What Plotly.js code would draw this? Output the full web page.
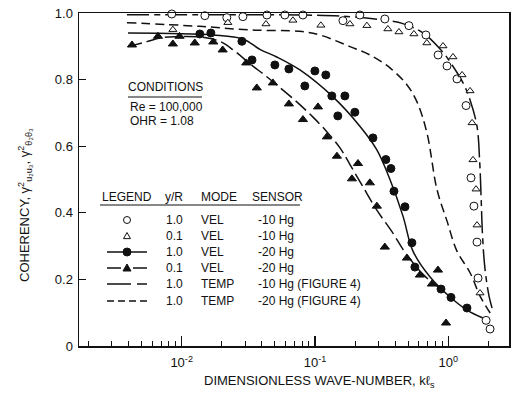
<!DOCTYPE html>
<html>
<head>
<meta charset="utf-8">
<script src="https://cdn.plot.ly/plotly-3.0.1.min.js"></script>
<style>
  html, body { margin: 0; padding: 0; background: #ffffff; }
  #chart { width: 516px; height: 396px; }
</style>
</head>
<body>
<div id="chart"></div>
<script>
// ---- Measured coherency data ----
// y/R = 1.0, VEL, -10 Hg (open circles)
const circOpenK   = [0.00843, 0.01493, 0.0218, 0.0288, 0.0436, 0.0594, 0.0811, 0.162, 0.217, 0.334, 0.506,
                     0.679, 0.838, 0.977, 1.161, 1.358, 1.479, 1.556, 1.641, 1.671, 1.919, 2.056];
const circOpenCoh = [0.997, 0.992, 0.986, 0.989, 0.994, 0.994, 0.994, 0.977, 0.994, 0.982, 0.962,
                     0.934, 0.874, 0.841, 0.802, 0.722, 0.505, 0.420, 0.312, 0.204, 0.077, 0.051];

// y/R = 0.1, VEL, -10 Hg (open triangles)
const triOpenK    = [0.00859, 0.0222, 0.0429, 0.0683, 0.1107, 0.1828, 0.245, 0.352, 0.426, 0.552,
                     0.690, 0.912, 1.084, 1.268, 1.455, 1.507, 1.531, 1.614, 1.641, 1.729];
const triOpenCoh  = [0.950, 0.971, 0.967, 0.978, 0.963, 0.967, 0.962, 0.952, 0.943, 0.937,
                     0.910, 0.901, 0.868, 0.814, 0.766, 0.670, 0.559, 0.471, 0.363, 0.159];

// y/R = 1.0, VEL, -20 Hg (filled circles)
const circFillK   = [0.01368, 0.01656, 0.0283, 0.0337, 0.0500, 0.0637, 0.0839, 0.0998, 0.1205, 0.1337,
                     0.1675, 0.1483, 0.199, 0.272, 0.340, 0.371, 0.391, 0.473, 0.533, 0.561, 0.881, 1.047, 1.380];
const circFillCoh = [0.937, 0.940, 0.915, 0.859, 0.844, 0.832, 0.781, 0.826, 0.814, 0.751,
                     0.751, 0.691, 0.702, 0.625, 0.560, 0.533, 0.465, 0.418, 0.310, 0.237, 0.171, 0.146, 0.114];

// y/R = 0.1, VEL, -20 Hg (filled triangles)
const triFillK    = [0.00424, 0.00664, 0.00859, 0.00964, 0.01254, 0.01726, 0.0203, 0.0305, 0.0366, 0.0483,
                     0.0637, 0.0812, 0.1053, 0.1228, 0.1460, 0.1892, 0.210, 0.258, 0.291, 0.334,
                     0.489, 0.612, 0.753, 0.836, 0.961];
const triFillCoh  = [0.904, 0.930, 0.907, 0.930, 0.910, 0.913, 0.889, 0.850, 0.775, 0.790,
                     0.727, 0.680, 0.718, 0.628, 0.570, 0.502, 0.548, 0.490, 0.420, 0.297,
                     0.264, 0.213, 0.186, 0.228, 0.069];

// ---- Faired curves ----
// y/R = 1.0, VEL, -20 Hg (solid)
const velCurve10K   = [0.00396, 0.01718, 0.0288, 0.0389, 0.0517, 0.0771, 0.1364, 0.217, 0.291, 0.365,
                       0.457, 0.543, 0.730, 1.03, 1.38, 1.82];
const velCurve10Coh = [0.940, 0.934, 0.922, 0.890, 0.868, 0.829, 0.748, 0.660, 0.589, 0.500,
                       0.390, 0.285, 0.207, 0.147, 0.108, 0.084];

// y/R = 0.1, VEL, -20 Hg (long dashes)
const velCurve01K   = [0.00396, 0.00548, 0.00687, 0.00891, 0.01368, 0.0193, 0.0251, 0.0324, 0.0421, 0.0517,
                       0.0730, 0.0962, 0.123, 0.154, 0.183, 0.229, 0.291, 0.384, 0.457, 0.543,
                       0.646, 0.767, 0.912];
const velCurve01Coh = [0.899, 0.914, 0.925, 0.929, 0.928, 0.915, 0.885, 0.848, 0.813, 0.784,
                       0.733, 0.688, 0.643, 0.595, 0.545, 0.478, 0.408, 0.339, 0.290, 0.250,
                       0.215, 0.189, 0.168];

// y/R = 1.0, TEMP, -10 Hg (long dash - short dash)
const tempCurve10K   = [0.00389, 0.01368, 0.0771, 0.183, 0.323, 0.457, 0.646, 0.912, 1.03, 1.29,
                        1.455, 1.64, 1.72, 1.76, 1.806, 1.885, 2.02, 2.18];
const tempCurve10Coh = [0.995, 0.995, 0.994, 0.989, 0.979, 0.968, 0.940, 0.882, 0.853, 0.790,
                        0.739, 0.660, 0.550, 0.450, 0.330, 0.230, 0.150, 0.099];

// y/R = 1.0, TEMP, -20 Hg (short dashes)
const tempCurve20K   = [0.00389, 0.01368, 0.0325, 0.0771, 0.109, 0.183, 0.258, 0.365, 0.490, 0.582,
                        0.691, 0.822, 0.978, 1.16, 1.455, 1.73, 2.06];
const tempCurve20Coh = [0.971, 0.960, 0.949, 0.945, 0.934, 0.899, 0.874, 0.835, 0.784, 0.733,
                        0.640, 0.470, 0.375, 0.285, 0.220, 0.150, 0.099];

// ---- Axis labelling ----
const xTickVals = [0.01, 0.1, 1];
const xTickText = ['10<sup>-2</sup>', '10<sup>-1</sup>', '10<sup>0</sup>'];
const yTickVals = [0, 0.2, 0.4, 0.6, 0.8, 1.0];
const yTickText = ['0', '0.2', '0.4', '0.6', '0.8', '1.0'];

// ---- Legend table contents ----
const legendYR     = ['1.0', '0.1', '1.0', '0.1', '1.0', '1.0'];
const legendMode   = ['VEL', 'VEL', 'VEL', 'VEL', 'TEMP', 'TEMP'];
const legendSensor = ['-10 Hg', '-10 Hg', '-20 Hg', '-20 Hg', '-10 Hg (FIGURE 4)', '-20 Hg (FIGURE 4)'];

// ---- Plot geometry (pixels) ----
const W = 516, H = 396;
const M = { l: 79, r: 7, t: 13, b: 50 };
const PW = W - M.l - M.r, PH = H - M.t - M.b;
const X = px => (px - M.l) / PW;            // pixel -> paper x
const Y = py => (H - M.b - py) / PH;        // pixel -> paper y

const FONT = 'Liberation Sans, Arial, sans-serif';
const INK = '#111111';

// minor ticks at 2..9 of every decade in range
const xRangeLog = [-2.770, 0.455];
const minorVals = [];
for (let e = -3; e <= 0; e++) {
  for (let m = 2; m <= 9; m++) {
    const v = m * Math.pow(10, e);
    const lv = Math.log10(v);
    if (lv > xRangeLog[0] && lv < xRangeLog[1]) minorVals.push(v);
  }
}

const curve = (x, y, dash) => ({
  type: 'scatter', mode: 'lines', x: x, y: y, hoverinfo: 'skip',
  line: { color: INK, width: 1.5, dash: dash, shape: 'spline', smoothing: 1 },
  showlegend: false
});
const pts = (x, y, symbol, size, fill) => ({
  type: 'scatter', mode: 'markers', x: x, y: y, cliponaxis: false,
  marker: { symbol: symbol, size: size, color: fill, line: { color: INK, width: 1 } },
  showlegend: false
});

const traces = [
  curve(tempCurve20K, tempCurve20Coh, '9px,5px'),
  curve(tempCurve10K, tempCurve10Coh, '22px,5px,6px,5px'),
  curve(velCurve01K, velCurve01Coh, '14px,5px'),
  curve(velCurve10K, velCurve10Coh, 'solid'),
  pts(circOpenK, circOpenCoh, 'circle', 8, '#ffffff'),
  pts(triOpenK, triOpenCoh, 'triangle-up', 7, '#ffffff'),
  pts(circFillK, circFillCoh, 'circle', 8, INK),
  pts(triFillK, triFillCoh, 'triangle-up', 8, INK)
];

// ---- Annotations: conditions block, legend table, axis titles ----
const ann = [];
const txt = (px, py, text, size, anchor) => ann.push({
  xref: 'paper', yref: 'paper', x: X(px), y: Y(py), text: text, showarrow: false,
  xanchor: anchor || 'left', yanchor: 'middle', font: { family: FONT, size: size, color: INK }
});

txt(165, 87, 'CONDITIONS', 12, 'center');
txt(128, 107, 'Re = 100,000', 12);
txt(128, 121, 'OHR = 1.08', 12);

txt(127, 197, 'LEGEND', 12, 'center');
txt(174, 197, 'y/R', 12, 'center');
txt(199, 197, 'MODE', 12);
txt(250, 197, 'SENSOR', 12);

const rowY = [220, 236, 252, 268, 284, 301];
rowY.forEach((py, i) => {
  txt(174, py, legendYR[i], 12, 'center');
  txt(199, py, legendMode[i], 12);
  txt(256, py, legendSensor[i], 12);
});

ann.push({
  xref: 'paper', yref: 'paper', x: X(319), y: Y(381), showarrow: false,
  text: 'DIMENSIONLESS WAVE-NUMBER, kℓ<sub>s</sub>', xanchor: 'center', yanchor: 'middle',
  font: { family: FONT, size: 13, color: INK }
});
ann.push({
  xref: 'paper', yref: 'paper', x: X(25), y: Y(205), showarrow: false, textangle: -90,
  text: 'COHERENCY, γ<sup>2</sup><sub>u₂u₃</sub>, γ<sup>2</sup><sub>θ₂θ₃</sub>',
  xanchor: 'center', yanchor: 'middle',
  font: { family: FONT, size: 13, color: INK }
});

// ---- Shapes: underlines and legend line samples / symbols ----
const shp = [];
const hline = (x0, x1, py, dash, w) => shp.push({
  type: 'line', xref: 'paper', yref: 'paper', x0: X(x0), x1: X(x1), y0: Y(py), y1: Y(py),
  line: { color: INK, width: w || 1.3, dash: dash || 'solid' }
});
const circ = (cx, cy, r, fill) => shp.push({
  type: 'circle', xref: 'paper', yref: 'paper',
  x0: X(cx - r), x1: X(cx + r), y0: Y(cy + r), y1: Y(cy - r),
  fillcolor: fill, line: { color: INK, width: 1 }
});
const tri = (cx, cy, r, fill) => shp.push({
  type: 'path', xref: 'paper', yref: 'paper',
  path: 'M ' + X(cx) + ' ' + Y(cy - r) + ' L ' + X(cx + r) + ' ' + Y(cy + r * 0.75) +
        ' L ' + X(cx - r) + ' ' + Y(cy + r * 0.75) + ' Z',
  fillcolor: fill, line: { color: INK, width: 1 }
});

hline(128, 202, 97, 'solid', 1.2);
hline(100, 300, 205, 'solid', 1.2);

circ(127, rowY[0], 3.5, '#ffffff');
tri(127, rowY[1], 3.5, '#ffffff');
hline(107, 147, rowY[2], 'solid', 1.5); circ(127, rowY[2], 4, INK);
hline(107, 121, rowY[3], 'solid', 1.5); hline(133, 147, rowY[3], 'solid', 1.5); tri(127, rowY[3], 4, INK);
hline(107, 131, rowY[4], 'solid', 1.5); hline(137, 147, rowY[4], 'solid', 1.5);
hline(107, 147, rowY[5], '7px,4px', 1.5);

const layout = {
  width: W, height: H,
  margin: M,
  paper_bgcolor: '#ffffff', plot_bgcolor: '#ffffff',
  font: { family: FONT, color: INK },
  showlegend: false,
  xaxis: {
    type: 'log', range: xRangeLog,
    tickmode: 'array', tickvals: xTickVals, ticktext: xTickText,
    ticks: 'inside', ticklen: 10, tickwidth: 1.2, tickcolor: INK,
    minor: { tickmode: 'array', tickvals: minorVals, ticks: 'inside', ticklen: 5, tickwidth: 1, tickcolor: INK, showgrid: false },
    showline: true, mirror: true, linecolor: INK, linewidth: 1.5,
    showgrid: false, zeroline: false,
    tickfont: { family: FONT, size: 13, color: INK },
    ticklabelstandoff: 4
  },
  yaxis: {
    range: [0, 1.0],
    tickmode: 'array', tickvals: yTickVals, ticktext: yTickText,
    ticks: 'inside', ticklen: 7, tickwidth: 1.2, tickcolor: INK,
    showline: true, mirror: true, linecolor: INK, linewidth: 1.5,
    showgrid: false, zeroline: false,
    tickfont: { family: FONT, size: 13, color: INK },
    ticklabelstandoff: 2
  },
  annotations: ann,
  shapes: shp
};

Plotly.newPlot('chart', traces, layout, { staticPlot: true, displayModeBar: false });
</script>
</body>
</html>
